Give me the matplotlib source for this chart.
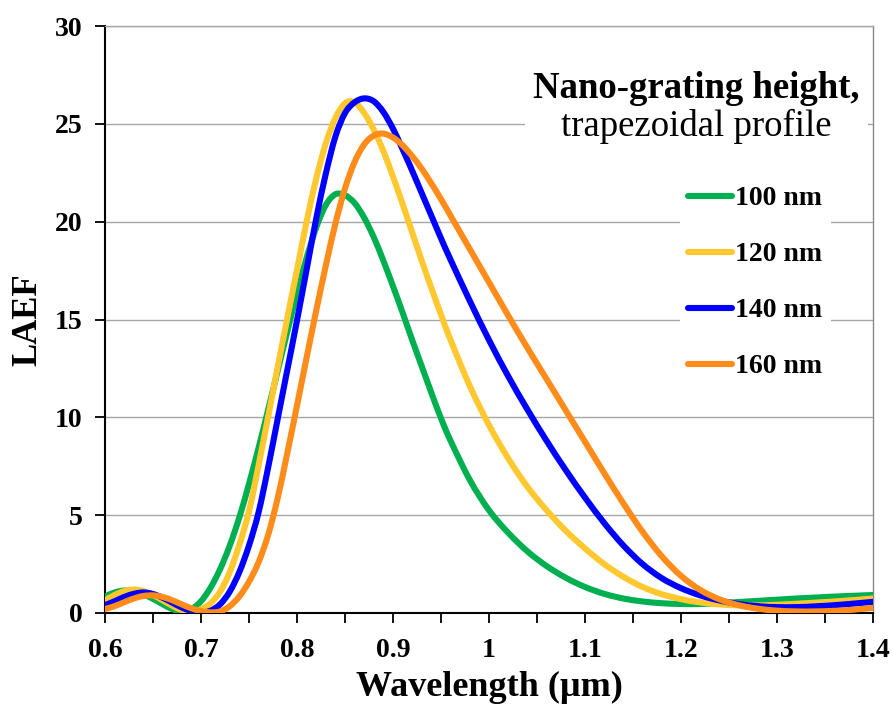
import matplotlib
matplotlib.use('Agg')
import numpy as np
import matplotlib.pyplot as plt
from matplotlib.ticker import MultipleLocator
from matplotlib.patches import Rectangle, PathPatch
from matplotlib.path import Path
from matplotlib.lines import Line2D

# wavelength grid (um) and LAEF spectra for each nano-grating height
wavelength = [0.60, 0.61, 0.62, 0.63, 0.64, 0.65, 0.66, 0.67, 0.68, 0.69,
              0.70, 0.71, 0.72, 0.73, 0.74, 0.75, 0.76, 0.77, 0.78, 0.79,
              0.80, 0.81, 0.82, 0.83, 0.84, 0.85, 0.86, 0.87, 0.88, 0.89,
              0.90, 0.91, 0.92, 0.93, 0.94, 0.95, 0.96,
              0.98, 1.00, 1.02, 1.04, 1.06, 1.08, 1.10, 1.12, 1.14, 1.16,
              1.18, 1.20, 1.22, 1.24, 1.26, 1.28, 1.30, 1.32, 1.34, 1.36,
              1.38, 1.40]

laef_100 = [0.85, 1.05, 1.15, 1.10, 0.95, 0.72, 0.45, 0.20, 0.07, 0.20,
            0.60, 1.30, 2.25, 3.45, 4.90, 6.60, 8.45, 10.4, 12.4, 14.4,
            16.35, 18.15, 19.7, 20.85, 21.4, 21.35, 20.95, 20.2, 19.2, 18.0,
            16.7, 15.35, 13.95, 12.6, 11.25, 9.95, 8.8,
            6.8, 5.25, 4.1, 3.15, 2.4, 1.8, 1.33, 0.98, 0.74, 0.59,
            0.50, 0.46, 0.46, 0.50, 0.56, 0.62, 0.68, 0.74, 0.79, 0.84,
            0.88, 0.92]

laef_120 = [0.65, 0.92, 1.12, 1.20, 1.12, 0.92, 0.65, 0.37, 0.15, 0.05,
            0.20, 0.50, 1.10, 2.10, 3.50, 5.20, 7.55, 10.05, 12.6, 15.1,
            17.55, 20.0, 22.2, 24.0, 25.3, 26.05, 26.1, 25.55, 24.7, 23.6,
            22.3, 20.9, 19.45, 18.0, 16.6, 15.25, 13.95,
            11.6, 9.6, 7.9, 6.45, 5.25, 4.2, 3.3, 2.5, 1.85, 1.33,
            0.96, 0.71, 0.54, 0.44, 0.39, 0.39, 0.42, 0.47, 0.53, 0.59,
            0.66, 0.74]

laef_140 = [0.40, 0.60, 0.82, 0.98, 1.05, 0.97, 0.78, 0.53, 0.28, 0.10,
            0.02, 0.12, 0.45, 1.10, 2.10, 3.45, 5.15, 7.45, 9.95, 12.45,
            14.95, 17.55, 20.15, 22.45, 24.35, 25.55, 26.1, 26.3, 26.15, 25.6,
            24.75, 23.7, 22.6, 21.45, 20.3, 19.15, 18.05,
            15.95, 13.95, 12.1, 10.4, 8.8, 7.3, 5.9, 4.6, 3.45, 2.5,
            1.78, 1.27, 0.90, 0.64, 0.46, 0.35, 0.30, 0.30, 0.34, 0.40,
            0.48, 0.57]

laef_160 = [0.20, 0.35, 0.55, 0.74, 0.87, 0.90, 0.82, 0.65, 0.44, 0.24,
            0.10, 0.03, 0.08, 0.35, 0.85, 1.6, 2.6, 4.0, 5.9, 8.2,
            10.6, 13.05, 15.45, 17.75, 19.9, 21.7, 23.05, 23.95, 24.4, 24.5,
            24.3, 23.9, 23.35, 22.7, 21.95, 21.15, 20.3,
            18.6, 16.9, 15.2, 13.55, 11.95, 10.35, 8.75, 7.15, 5.6, 4.15,
            2.9, 1.9, 1.18, 0.70, 0.40, 0.22, 0.12, 0.08, 0.08, 0.11,
            0.17, 0.26]

series = [laef_100, laef_120, laef_140, laef_160]
labels = ['100 nm', '120 nm', '140 nm', '160 nm']
colors = ['#00b050', '#ffc830', '#0000ff', '#ff8c1a']

x_ticks = [0.6, 0.7, 0.8, 0.9, 1.0, 1.1, 1.2, 1.3, 1.4]
x_tick_labels = ['0.6', '0.7', '0.8', '0.9', '1', '1.1', '1.2', '1.3', '1.4']
y_ticks = [0, 5, 10, 15, 20, 25, 30]

LINE_W = 4.4


def smooth_path(x, y):
    # spreadsheet-style smoothed line: Catmull-Rom segments as cubic Beziers
    p = np.column_stack([x, y])
    ext = np.vstack([p[0], p, p[-1]])
    verts = [p[0]]
    codes = [Path.MOVETO]
    for i in range(len(p) - 1):
        p0, p1, p2, p3 = ext[i], ext[i + 1], ext[i + 2], ext[i + 3]
        verts += [p1 + (p2 - p0) / 6, p2 - (p3 - p1) / 6, p2]
        codes += [Path.CURVE4] * 3
    return Path(verts, codes)


plt.rcParams['font.family'] = 'Liberation Serif'
plt.rcParams['font.weight'] = 'bold'
plt.rcParams['axes.labelweight'] = 'bold'

fig = plt.figure(figsize=(8.93, 7.11), dpi=100)
ax = fig.add_axes([105 / 893, 98 / 711, 768 / 893, 587 / 711])

handles = []
for values, label, color in zip(series, labels, colors):
    ax.add_patch(PathPatch(smooth_path(wavelength, values), facecolor='none',
                           edgecolor=color, lw=LINE_W, capstyle='round',
                           joinstyle='round', zorder=3))
    handles.append(Line2D([], [], color=color, lw=LINE_W,
                          solid_capstyle='round', label=label))

ax.set_xlim(0.6, 1.4)
ax.set_ylim(0, 30)
ax.set_xticks(x_ticks)
ax.set_xticklabels(x_tick_labels)
ax.set_yticks(y_ticks)
ax.xaxis.set_minor_locator(MultipleLocator(0.05))

ax.tick_params(axis='both', which='both', direction='out', length=7,
               width=1.3, labelsize=20)
ax.tick_params(axis='x', pad=11)
ax.tick_params(axis='y', pad=9)

ax.grid(axis='y', color='#a6a6a6', lw=1)
ax.set_axisbelow(True)
for side in ['left', 'bottom']:
    ax.spines[side].set_color('black')
    ax.spines[side].set_linewidth(1.5)
ax.spines['right'].set_color('#888888')
ax.spines['right'].set_linewidth(1)
ax.spines['top'].set_color('#a6a6a6')
ax.spines['top'].set_linewidth(1)

ax.set_xlabel('Wavelength (µm)', fontsize=26, labelpad=6)
ax.set_ylabel('LAEF', fontsize=25, labelpad=8)

# white panel behind the legend heading so the gridline is hidden
ax.add_patch(Rectangle((0.547, 0.79), 0.447, 0.14, transform=ax.transAxes,
                       facecolor='white', edgecolor='none', zorder=2))
ax.text(0.7695, 0.894, 'Nano-grating height,', transform=ax.transAxes,
        fontsize=26.5, fontweight='bold', ha='center', va='center', zorder=4)
ax.text(0.7695, 0.829, 'trapezoidal profile', transform=ax.transAxes,
        fontsize=26.5, fontweight='normal', ha='center', va='center', zorder=4)

leg = ax.legend(handles=handles, loc='center',
                bbox_to_anchor=(0.8466, 0.563),
                fontsize=20, frameon=True, fancybox=False, framealpha=1,
                edgecolor='none', handlelength=1.6, handletextpad=0.1,
                labelspacing=1.1, borderpad=0.3)

fig.savefig('out.png', dpi=100)
